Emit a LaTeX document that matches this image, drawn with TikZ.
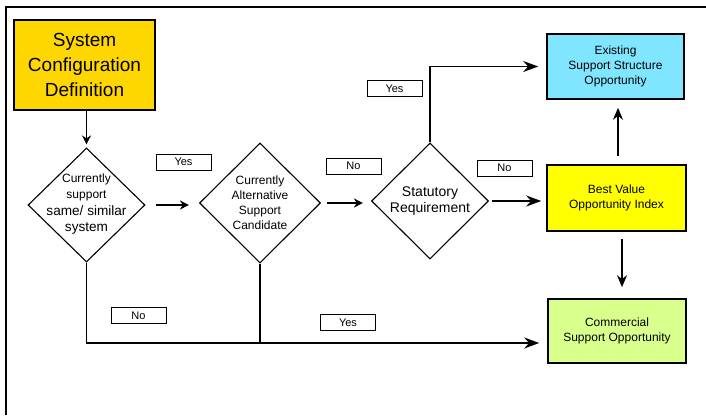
\documentclass[tikz,border=0pt]{standalone}
\usepackage{fontspec}
\setmainfont{Liberation Sans}
\usetikzlibrary{shapes.geometric,arrows.meta}
\definecolor{goldbox}{RGB}{255,215,0}
\definecolor{cyanbox}{RGB}{128,229,255}
\definecolor{yellowbox}{RGB}{255,255,0}
\definecolor{greenbox}{RGB}{217,255,140}
\tikzset{
  outbox/.style={draw=black, line width=1.6pt, inner sep=0pt, align=center,
    font=\fontsize{12}{15}\selectfont},
  decision/.style={draw=black, shape=diamond, line width=1.1pt, inner sep=0pt},
  dtext/.style={align=center, inner sep=0pt},
  tag/.style={draw=black, line width=0.8pt, fill=white, minimum width=55pt,
    minimum height=16pt, inner sep=0pt, font=\fontsize{11}{13}\selectfont},
  flow/.style={line width=1.4pt, -{Stealth[length=9pt,width=9pt]}},
  bigflow/.style={line width=1.9pt, -{Stealth[length=15pt,width=11pt]}},
  plain/.style={line width=1.9pt}
}
\begin{document}
\begin{tikzpicture}[x=1pt,y=-1pt]
\useasboundingbox (0,0) rectangle (706,415);
% frame
\draw[line width=1.6pt] (6,415) -- (6,7) -- (706,7);

% nodes
\node[outbox, fill=goldbox, minimum width=141pt, minimum height=90pt,
  font=\fontsize{19}{25}\selectfont] (sys) at (84.5,65)
  {System\\Configuration\\Definition};

\node[decision, minimum width=117pt, minimum height=114pt] (d1) at (86.5,205) {};
\node[dtext, font=\fontsize{13.6}{16.3}\selectfont] (t1) at (86.5,204)
  {{\fontsize{12}{16.3}\selectfont Currently}\\{\fontsize{12}{16.3}\selectfont support}\\same/ similar\\system};

\node[decision, minimum width=121pt, minimum height=120pt] (d2) at (260,203) {};
\node[dtext, font=\fontsize{12}{15}\selectfont] (t2) at (d2.center)
  {Currently\\Alternative\\Support\\Candidate};

\node[decision, minimum width=117pt, minimum height=116pt] (d3) at (430,201) {};
\node[dtext, font=\fontsize{14}{16}\selectfont] (t3) at (d3.center)
  {Statutory\\Requirement};

\node[outbox, fill=cyanbox, minimum width=137pt, minimum height=65pt] (exist)
  at (615.5,66.5) {Existing\\Support Structure\\Opportunity};
\node[outbox, fill=yellowbox, minimum width=139pt, minimum height=66pt] (best)
  at (616.5,198) {Best Value\\Opportunity Index};
\node[outbox, fill=greenbox, minimum width=138pt, minimum height=64pt] (comm)
  at (617,331) {Commercial\\Support Opportunity};

% tags
\node[tag] (yes1) at (183.5,162) {Yes};
\node[tag] (no1) at (353.5,166) {No};
\node[tag] (yes2) at (394.5,88.5) {Yes};
\node[tag] (no2) at (504.5,168) {No};
\node[tag] (no3) at (138.5,315.5) {No};
\node[tag] (yes3) at (348,322.5) {Yes};

% connectors
\draw[line width=1.2pt, -{Stealth[length=9pt,width=9pt]}, shorten >=3pt]
  (sys.south -| d1.north) -- (d1.north);
\draw[flow, shorten <=10pt, shorten >=10pt] (d1.east) -- (d2.west |- d1.east);
\draw[flow, shorten <=6pt, shorten >=8pt] (d2.east) -- (d3.west |- d2.east);
\draw[bigflow, shorten <=3pt, shorten >=5pt] (d3.east) -- (best.west |- d3.east);
\draw[bigflow, shorten >=8pt] (d3.north) |- (exist.west);
\draw[line width=1.5pt, -{Stealth[length=12pt,width=10pt]}, shorten <=8pt, shorten >=8pt]
  (best.north -| 618,0) -- (exist.south -| 618,0);
\draw[line width=1.5pt, -{Stealth[length=12pt,width=10pt]}, shorten <=7pt, shorten >=11pt]
  (best.south -| 622,0) -- (comm.north -| 622,0);
\coordinate (cin) at ([yshift=-12pt]comm.west);
\draw[bigflow, shorten >=8pt] (d1.south) |- (cin);
\draw[plain] (d2.south) -- (d2.south |- cin);
\end{tikzpicture}
\end{document}
